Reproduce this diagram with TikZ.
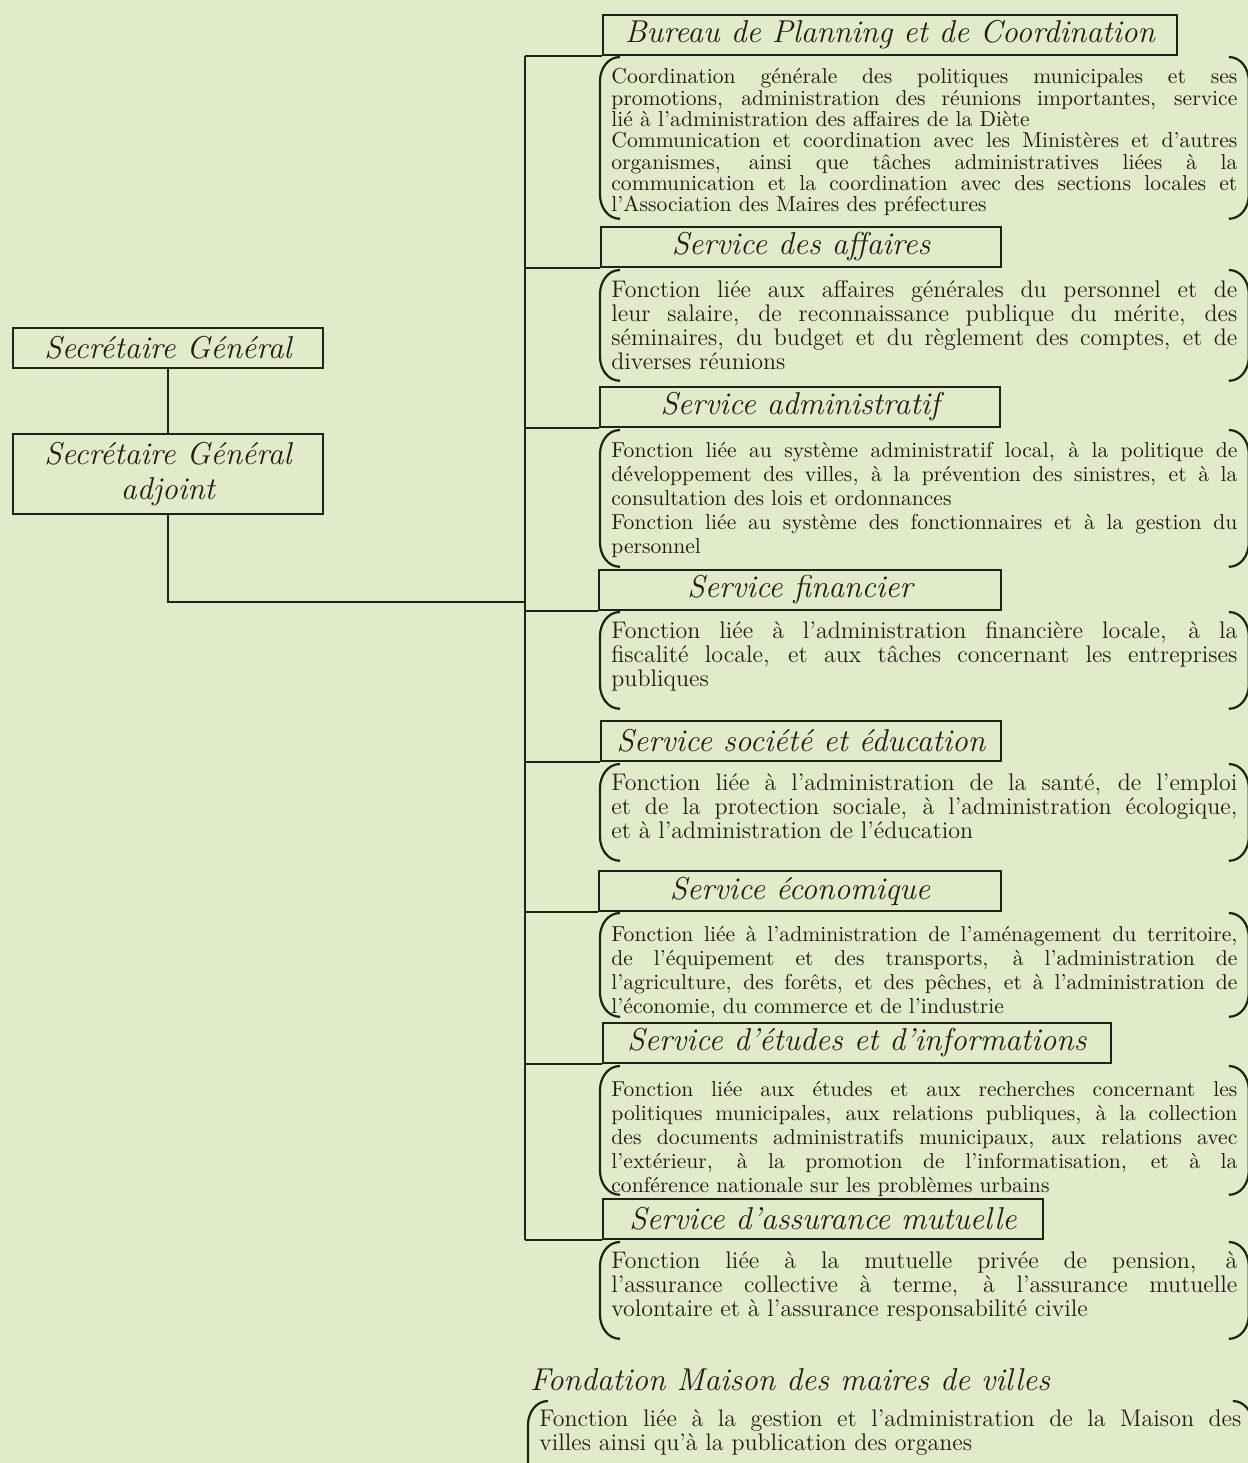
\documentclass[tikz,border=0pt]{standalone}
\usepackage{fontspec}
\usetikzlibrary{positioning}
\definecolor{bgcol}{RGB}{226,235,201}
\definecolor{linecol}{RGB}{30,34,28}
\definecolor{textcol}{RGB}{28,30,26}
\newcommand{\descsetup}{\hyphenpenalty=10000 \exhyphenpenalty=10000 \tolerance=10000 \parindent=0pt }
% round brackets on both sides of a description
\newcommand{\parens}[1]{%
  \draw[bracket] ([xshift=10pt]#1.north west) to[out=180,in=90] ([yshift=-12pt]#1.north west)
    -- ([yshift=12pt]#1.south west) to[out=-90,in=180] ([xshift=10pt]#1.south west);
  \draw[bracket] ([xshift=-10pt]#1.north east) to[out=0,in=90] ([yshift=-12pt]#1.north east)
    -- ([yshift=12pt]#1.south east) to[out=-90,in=0] ([xshift=-10pt]#1.south east);}

\begin{document}
\begin{tikzpicture}[x=0.5pt,y=-0.5pt,
    link/.style={draw=linecol,line width=1pt},
    bracket/.style={draw=linecol,line width=1.1pt},
    titlebox/.style={draw=linecol,line width=1pt,inner sep=0pt,minimum height=20pt,
      anchor=north west,text=textcol,font=\fontsize{15.8}{17.5}\selectfont\itshape},
    desc/.style 2 args={anchor=north west,text width=313pt,align=justify,inner xsep=5.5pt,
      inner ysep=0pt,text height=#1,text depth=#2,text=textcol},
    fdense/.style={font=\fontsize{10.8}{10.65}\selectfont\descsetup},
    fsmall/.style={font=\fontsize{10.8}{12}\selectfont\descsetup},
    flarge/.style={font=\fontsize{12}{12}\selectfont\descsetup}]
  \clip (0,0) rectangle (1248,1463);
  \fill[bgcol] (0,0) rectangle (1248,1463);

  % direction
  \node[titlebox,minimum width=155pt] (sg) at (12,327) {Secrétaire Général};
  \node[titlebox,minimum width=155pt,minimum height=40pt,align=center] (sga) at (12,433)
    {Secrétaire Général\\adjoint};

  % services
  \node[titlebox,minimum width=287pt] (t1) at (602,14) {Bureau de Planning et de Coordination};
  \node[desc={13.25pt}{67.25pt},fdense] (d1) at (600,57) {Coordination générale des politiques municipales et ses\linebreak
    promotions, administration des réunions importantes, service\linebreak
    lié à l'administration des affaires de la Diète\par
    Communication et coordination avec les Ministères et d'autres\linebreak
    organismes, ainsi que tâches administratives liées à la\linebreak
    communication et la coordination avec des sections locales et\linebreak
    l'Association des Maires des préfectures};

  \node[titlebox,minimum width=200pt] (t2) at (600,226) {Service des affaires};
  \node[desc={13.75pt}{41.25pt},flarge] (d2) at (600,270) {Fonction liée aux affaires générales du personnel et de\linebreak
    leur salaire, de reconnaissance publique du mérite, des\linebreak
    séminaires, du budget et du règlement des comptes, et de\linebreak
    diverses réunions};

  \node[titlebox,minimum width=200pt] (t3) at (599,386) {Service administratif};
  \node[desc={13.75pt}{54.25pt},fsmall] (d3) at (600,430) {Fonction liée au système administratif local, à la politique de\linebreak
    développement des villes, à la prévention des sinistres, et à la\linebreak
    consultation des lois et ordonnances\par
    Fonction liée au système des fonctionnaires et à la gestion du\linebreak
    personnel};

  \node[titlebox,minimum width=201pt] (t4) at (598,569) {Service financier};
  \node[desc={13.25pt}{34.75pt},flarge] (d4) at (600,612) {Fonction liée à l'administration financière locale, à la\linebreak
    fiscalité locale, et aux tâches concernant les entreprises\linebreak
    publiques};

  \node[titlebox,minimum width=200pt] (t5) at (600,720) {Service société et éducation};
  \node[desc={13.25pt}{34.75pt},flarge] (d5) at (600,764) {Fonction liée à l'administration de la santé, de l'emploi\linebreak
    et de la protection sociale, à l'administration écologique,\linebreak
    et à l'administration de l'éducation};

  \node[titlebox,minimum width=201pt] (t6) at (598,870) {Service économique};
  \node[desc={14.25pt}{37.25pt},fsmall] (d6) at (600,913) {Fonction liée à l'administration de l'aménagement du territoire,\linebreak
    de l'équipement et des transports, à l'administration de\linebreak
    l'agriculture, des forêts, et des pêches, et à l'administration de\linebreak
    l'économie, du commerce et de l'industrie};

  \node[titlebox,minimum width=254pt] (t7) at (602,1022) {Service d'études et d'informations};
  \node[desc={15.25pt}{48.75pt},fsmall] (d7) at (600,1066) {Fonction liée aux études et aux recherches concernant les\linebreak
    politiques municipales, aux relations publiques, à la collection\linebreak
    des documents administratifs municipaux, aux relations avec\linebreak
    l'extérieur, à la promotion de l'informatisation, et à la\linebreak
    conférence nationale sur les problèmes urbains};

  \node[titlebox,minimum width=220pt] (t8) at (602,1198) {Service d'assurance mutuelle};
  \node[desc={13.25pt}{34.75pt},flarge] (d8) at (600,1242) {Fonction liée à la mutuelle privée de pension, à\linebreak
    l'assurance collective à terme, à l'assurance mutuelle\linebreak
    volontaire et à l'assurance responsabilité civile};

  % fondation, outside the tree
  \node[titlebox,draw=none,anchor=west] (fd) at (529,1380) {Fondation Maison des maires de villes};
  \node[desc={12.5pt}{32pt},flarge,text width=351pt] (d9) at (528,1401) {Fonction liée à la gestion et l'administration de la Maison des\linebreak
    villes ainsi qu'à la publication des organes};

  \foreach \d in {d1,d2,d3,d4,d5,d6,d7,d8,d9}
    \parens{\d};

  % connectors
  \coordinate (trunk) at (525,0);
  \coordinate (join) at (525,602);
  \draw[link] (sg) -- (sga);
  \draw[link] (sga.south) |- (join);
  \draw[link] (t1.south west -| trunk) -- (t8.south west -| trunk);
  \foreach \t in {t1,t2,t3,t4,t5,t6,t7,t8}
    \draw[link] (\t.south west) -- (\t.south west -| trunk);
\end{tikzpicture}
\end{document}
